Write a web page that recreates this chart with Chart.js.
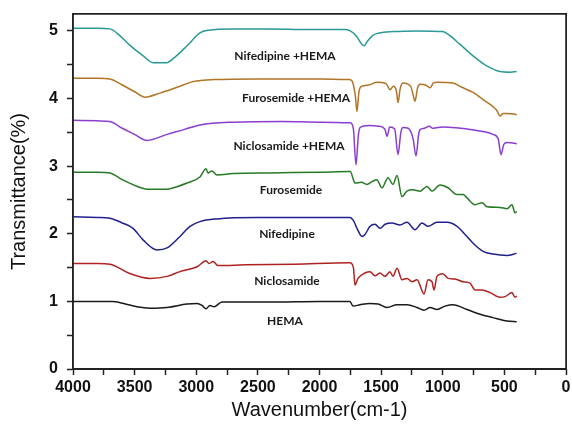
<!DOCTYPE html>
<html>
<head>
<meta charset="utf-8">
<script src="https://cdn.jsdelivr.net/npm/chart.js@4"></script>
<style>
  html, body { margin: 0; padding: 0; background: #fff; }
  #wrap { position: relative; width: 572px; height: 424px; }
  canvas { display: block; }
  #box { position: absolute; box-sizing: border-box; border: 1.5px solid #222; pointer-events: none; }
</style>
</head>
<body>
<div id="wrap">
  <canvas id="myChart" width="572" height="424"></canvas>
  <div id="box"></div>
</div>
<script>
// spectra as [wavenumber, transmittance] pairs
const nifedipineHema = [[4000,5.04],[3800,5.04],[3700,5.03],[3620,4.93],[3540,4.79],[3430,4.63],[3350,4.53],[3240,4.53],[3180,4.60],[3075,4.78],[2970,4.97],[2900,5.01],[2700,5.03],[2400,5.03],[2100,5.02],[1800,5.02],[1750,5.00],[1700,4.92],[1660,4.81],[1639,4.78],[1610,4.85],[1570,4.93],[1535,4.96],[1400,4.99],[1200,5.00],[1000,4.99],[950,4.94],[860,4.80],[754,4.63],[650,4.49],[536,4.40],[450,4.39],[400,4.40]];
const furosemideHema = [[4000,4.30],[3800,4.30],[3700,4.29],[3600,4.20],[3500,4.10],[3416,4.02],[3294,4.08],[3150,4.17],[3026,4.25],[2864,4.28],[2500,4.29],[2000,4.29],[1760,4.28],[1736,4.26],[1710,4.05],[1696,3.81],[1680,4.10],[1660,4.18],[1600,4.20],[1535,4.24],[1460,4.22],[1428,4.13],[1400,4.18],[1375,4.10],[1363,3.94],[1345,4.15],[1322,4.23],[1260,4.18],[1240,4.05],[1225,3.96],[1205,4.15],[1184,4.21],[1140,4.20],[1103,4.16],[1075,4.23],[1047,4.24],[917,4.23],[850,4.17],[754,4.09],[670,3.98],[592,3.88],[560,3.82],[536,3.74],[510,3.78],[478,3.78],[420,3.77],[400,3.76]];
const niclosamideHema = [[4000,3.68],[3800,3.67],[3700,3.66],[3600,3.56],[3500,3.47],[3400,3.38],[3237,3.47],[3100,3.54],[2970,3.61],[2700,3.65],[2300,3.66],[2000,3.65],[1750,3.64],[1725,3.55],[1704,3.02],[1685,3.45],[1671,3.57],[1600,3.60],[1520,3.59],[1470,3.55],[1452,3.44],[1430,3.58],[1390,3.55],[1363,3.17],[1340,3.50],[1322,3.57],[1280,3.56],[1240,3.40],[1217,3.15],[1195,3.48],[1184,3.54],[1150,3.56],[1110,3.59],[1080,3.56],[1000,3.58],[803,3.55],[700,3.52],[592,3.47],[550,3.40],[527,3.17],[505,3.32],[478,3.35],[420,3.34],[400,3.33]];
const furosemide = [[4000,2.91],[3800,2.91],[3700,2.90],[3600,2.80],[3450,2.68],[3400,2.66],[3240,2.66],[3150,2.70],[3075,2.75],[2970,2.84],[2921,2.96],[2905,2.90],[2873,2.93],[2832,2.87],[2700,2.89],[2400,2.90],[2000,2.91],[1750,2.92],[1725,2.80],[1712,2.75],[1660,2.76],[1615,2.73],[1575,2.77],[1535,2.80],[1493,2.68],[1444,2.83],[1404,2.73],[1371,2.86],[1331,2.55],[1290,2.63],[1241,2.65],[1184,2.63],[1128,2.70],[1087,2.63],[1022,2.72],[957,2.68],[884,2.58],[835,2.58],[803,2.53],[738,2.43],[681,2.46],[641,2.40],[536,2.39],[478,2.37],[438,2.43],[414,2.31],[400,2.33]];
const nifedipine = [[4000,2.25],[3800,2.24],[3700,2.23],[3600,2.16],[3513,2.08],[3432,1.91],[3318,1.76],[3237,1.79],[3132,1.96],[3051,2.11],[2970,2.18],[2832,2.22],[2500,2.24],[2000,2.24],[1753,2.24],[1720,2.18],[1696,2.08],[1655,1.96],[1631,1.99],[1590,2.11],[1550,2.14],[1509,2.08],[1468,2.14],[1412,2.16],[1347,2.13],[1290,2.17],[1225,2.06],[1168,2.16],[1120,2.11],[1047,2.17],[965,2.17],[884,2.11],[819,1.99],[754,1.86],[673,1.74],[592,1.70],[478,1.68],[400,1.71]];
const niclosamide = [[4000,1.56],[3800,1.56],[3700,1.55],[3550,1.42],[3375,1.34],[3237,1.37],[3132,1.44],[3026,1.49],[2986,1.52],[2921,1.60],[2897,1.56],[2864,1.59],[2824,1.53],[2600,1.54],[2200,1.55],[1753,1.57],[1725,1.50],[1712,1.24],[1688,1.34],[1631,1.42],[1590,1.44],[1550,1.38],[1509,1.42],[1468,1.37],[1428,1.44],[1404,1.37],[1371,1.49],[1331,1.32],[1290,1.34],[1249,1.29],[1209,1.32],[1152,1.11],[1120,1.32],[1087,1.29],[1071,1.17],[1047,1.37],[1000,1.41],[957,1.34],[900,1.33],[835,1.29],[779,1.27],[738,1.17],[681,1.17],[616,1.13],[536,1.06],[495,1.07],[438,1.13],[414,1.06],[400,1.08]];
const hema = [[4000,1.00],[3675,1.00],[3550,0.95],[3481,0.92],[3375,0.90],[3237,0.91],[3075,0.96],[2994,0.97],[2953,0.94],[2921,0.89],[2889,0.94],[2856,0.92],[2791,0.99],[2400,0.99],[2000,1.00],[1753,1.00],[1728,0.93],[1671,0.95],[1590,0.97],[1525,0.96],[1452,0.91],[1371,0.95],[1290,0.95],[1209,0.91],[1152,0.87],[1103,0.91],[1047,0.88],[981,0.93],[917,0.95],[803,0.88],[697,0.81],[592,0.76],[478,0.71],[400,0.70]];

const seriesNames = ['Nifedipine +HEMA', 'Furosemide +HEMA', 'Niclosamide +HEMA', 'Furosemide', 'Nifedipine', 'Niclosamide', 'HEMA'];
const seriesData = [nifedipineHema, furosemideHema, niclosamideHema, furosemide, nifedipine, niclosamide, hema];
const seriesColors = ['#2a9a97', '#b27426', '#8a3ed0', '#267a26', '#20208e', '#ae2222', '#1a1a1a'];

// where each curve's name sits, in wavenumber / transmittance units
const labelX = [2280, 2190, 2247, 2231, 2264, 2264, 2280];
const labelY = [4.62, 4.00, 3.30, 2.64, 1.99, 1.30, 0.71];

// labelled ticks, and the unlabelled minor ticks between them
const xTicks = [4000, 3500, 3000, 2500, 2000, 1500, 1000, 500, 0];
const xMinor = [3750, 3250, 2750, 2250, 1750, 1250, 750, 250];
const yTicks = [0, 1, 2, 3, 4, 5];
const yMinor = [0.5, 1.5, 2.5, 3.5, 4.5];

const axisColor = '#222';
const tickFont = { family: 'Liberation Sans', size: 16, weight: 'bold' };
const titleFont = { family: 'Liberation Sans', size: 20 };

// curve names, plus the box round the plot
const extras = {
    id: 'extras',
    afterDraw(chart) {
        const ctx = chart.ctx;
        const x = chart.scales.x;
        const y = chart.scales.y;
        const a = chart.chartArea;
        ctx.save();
        ctx.font = 'bold 12px Lato';
        ctx.fillStyle = '#1a1a1a';
        ctx.textAlign = 'center';
        ctx.textBaseline = 'middle';
        seriesNames.forEach((name, i) => {
            ctx.fillText(name, x.getPixelForValue(labelX[i]), y.getPixelForValue(labelY[i]));
        });
        ctx.setLineDash([]);
        ctx.globalCompositeOperation = 'source-over';
        ctx.strokeStyle = axisColor;
        ctx.lineWidth = 1.5;
        ctx.beginPath();
        ctx.rect(a.left, a.top, a.right - a.left, a.bottom - a.top);
        ctx.stroke();
        ctx.restore();

        // same box as a page element, laid over the canvas from the chart's own area
        const box = document.getElementById('box');
        box.style.left = (a.left - 0.75) + 'px';
        box.style.top = (a.top - 0.75) + 'px';
        box.style.width = (a.right - a.left + 1.5) + 'px';
        box.style.height = (a.bottom - a.top + 1.5) + 'px';
    }
};

new Chart(document.getElementById('myChart'), {
    type: 'line',
    data: {
        datasets: seriesData.map((d, i) => ({
            label: seriesNames[i],
            data: d.map(p => ({ x: p[0], y: p[1] })),
            borderColor: seriesColors[i],
            borderWidth: 1.5,
            pointRadius: 0,
            cubicInterpolationMode: 'monotone',
            fill: false
        }))
    },
    options: {
        responsive: false,
        animation: false,
        layout: { padding: { left: 0, right: 6, top: 14, bottom: 0 } },
        plugins: {
            legend: { display: false },
            tooltip: { enabled: false }
        },
        scales: {
            x: {
                type: 'linear',
                reverse: true,
                min: 0,
                max: 4000,
                afterFit: (scale) => {
                    scale.height = 55;
                    scale.paddingLeft = scale.paddingRight = 0;
                },
                afterBuildTicks: (scale) => {
                    scale.ticks = xTicks.concat(xMinor).sort((p, q) => q - p).map(v => ({ value: v }));
                },
                grid: { drawOnChartArea: false, drawTicks: true, tickLength: 6, color: axisColor, tickWidth: 1.5 },
                border: { display: true, color: axisColor, width: 1.5 },
                ticks: {
                    padding: 3,
                    color: '#111',
                    font: tickFont,
                    maxRotation: 0,
                    autoSkip: false,
                    callback: (v) => xTicks.includes(v) ? String(v) : ''
                },
                title: {
                    display: true,
                    text: 'Wavenumber(cm-1)',
                    color: '#111',
                    font: titleFont,
                    padding: { top: 0, bottom: 2 }
                }
            },
            y: {
                min: 0,
                max: 5.25,
                afterFit: (scale) => {
                    scale.width = 73;
                    scale.paddingTop = scale.paddingBottom = 0;
                },
                afterBuildTicks: (scale) => {
                    scale.ticks = yTicks.concat(yMinor).sort((p, q) => p - q).map(v => ({ value: v }));
                },
                grid: { drawOnChartArea: false, drawTicks: true, tickLength: 6, color: axisColor, tickWidth: 1.5 },
                border: { display: true, color: axisColor, width: 1.5 },
                ticks: {
                    padding: 9,
                    color: '#111',
                    autoSkip: false,
                    font: tickFont,
                    callback: (v) => yTicks.includes(v) ? String(v) : ''
                },
                title: {
                    display: true,
                    text: 'Transmittance(%)',
                    color: '#111',
                    font: titleFont,
                    padding: { top: 7, bottom: 0 }
                }
            }
        }
    },
    plugins: [extras]
});
</script>
</body>
</html>
